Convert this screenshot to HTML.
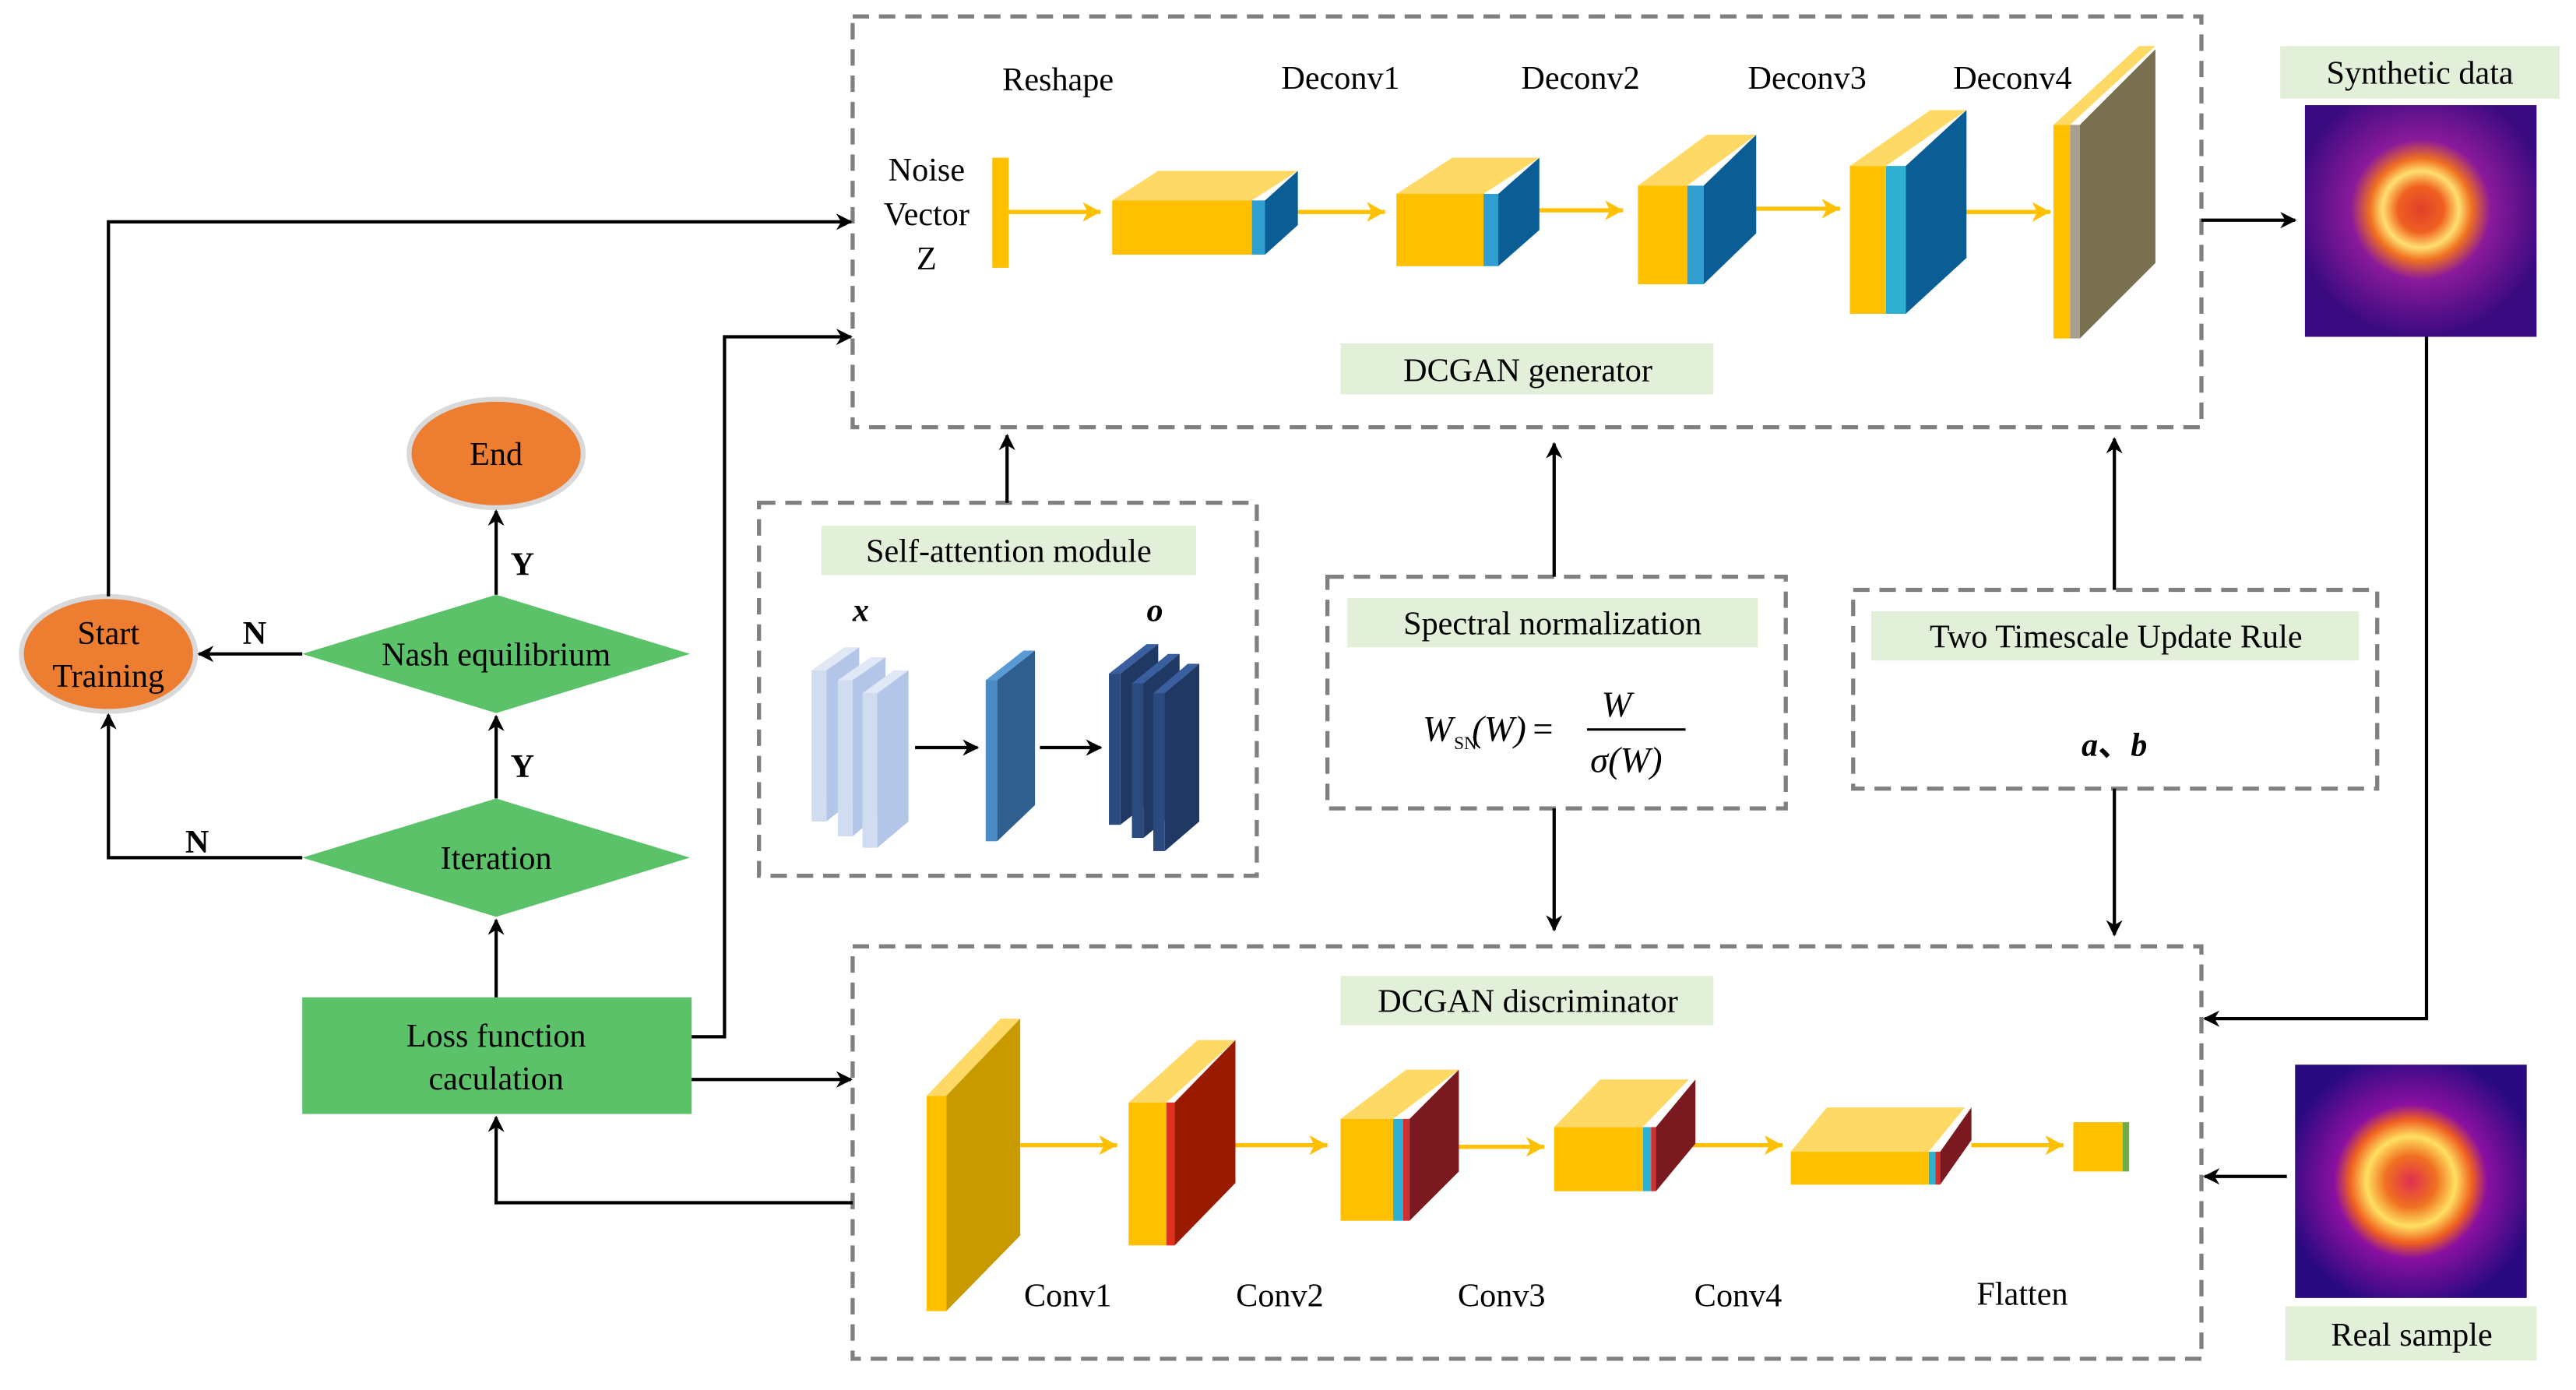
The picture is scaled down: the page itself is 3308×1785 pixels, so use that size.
<!DOCTYPE html>
<html><head><meta charset="utf-8"><style>
html,body{margin:0;padding:0;background:#fff;}
svg{display:block;}
text{font-family:"Liberation Serif",serif;fill:#000;}
</style></head><body>
<svg width="3308" height="1785" viewBox="0 0 1568 846" preserveAspectRatio="none" xmlns="http://www.w3.org/2000/svg">
<defs>
<marker id="ah" markerWidth="10" markerHeight="10" refX="9" refY="5" orient="auto" markerUnits="userSpaceOnUse"><path d="M0,0 L10,5 L0,10 L3,5 Z" fill="#000"/></marker>
<marker id="oh" markerWidth="12" markerHeight="12" refX="11" refY="6" orient="auto" markerUnits="userSpaceOnUse"><path d="M0,0 L11,6 L0,12 L3,6 Z" fill="#FFC000"/></marker>
</defs>
<g fill="none" stroke="#808080" stroke-width="2.5" stroke-dasharray="10,6">
<rect x="519" y="10" width="821" height="250"/>
<rect x="519" y="576" width="821" height="251"/>
<rect x="462" y="306" width="303" height="227"/>
<rect x="808" y="351" width="279" height="141"/>
<rect x="1128" y="359" width="319" height="121"/>
</g>
<g fill="#E2EFD9">
<rect x="816" y="209" width="227" height="31"/>
<rect x="816" y="594" width="227" height="30"/>
<rect x="500" y="320" width="228" height="30"/>
<rect x="820" y="364" width="250" height="30"/>
<rect x="1139" y="372" width="297" height="30"/>
<rect x="1388" y="28" width="170" height="32"/>
<rect x="1391" y="795" width="153" height="33"/>
</g>
<g font-size="20" text-anchor="middle">
<text x="930" y="232">DCGAN generator</text>
<text x="930" y="616">DCGAN discriminator</text>
<text x="614" y="342">Self-attention module</text>
<text x="945" y="386">Spectral normalization</text>
<text x="1288" y="394">Two Timescale Update Rule</text>
<text x="1473" y="51">Synthetic data</text>
<text x="1468" y="819">Real sample</text>
<text x="644" y="55">Reshape</text>
<text x="816" y="54">Deconv1</text>
<text x="962" y="54">Deconv2</text>
<text x="1100" y="54">Deconv3</text>
<text x="1225" y="54">Deconv4</text>
<text x="564" y="110">Noise</text>
<text x="564" y="137">Vector</text>
<text x="564" y="164">Z</text>
<text x="650" y="795">Conv1</text>
<text x="779" y="795">Conv2</text>
<text x="914" y="795">Conv3</text>
<text x="1058" y="795">Conv4</text>
<text x="1231" y="794">Flatten</text>
</g>
<!-- flowchart -->
<ellipse cx="66" cy="398" rx="53" ry="35" fill="#ED7D31" stroke="#D9D9D9" stroke-width="3"/>
<ellipse cx="302" cy="276" rx="53" ry="33" fill="#ED7D31" stroke="#D9D9D9" stroke-width="3"/>
<polygon points="184,398 302,362 420,398 302,434" fill="#5CC26A"/>
<polygon points="184,522 302,486 420,522 302,558" fill="#5CC26A"/>
<rect x="184" y="607" width="237" height="71" fill="#5CC26A"/>
<g font-size="20" text-anchor="middle">
<text x="66" y="392">Start</text>
<text x="66" y="418">Training</text>
<text x="302" y="283">End</text>
<text x="302" y="405">Nash equilibrium</text>
<text x="302" y="529">Iteration</text>
<text x="302" y="637">Loss function</text>
<text x="302" y="663">caculation</text>
</g>
<g font-size="20" font-weight="bold" text-anchor="middle">
<text x="318" y="350">Y</text>
<text x="318" y="473">Y</text>
<text x="155" y="392">N</text>
<text x="120" y="519">N</text>
</g>
<g fill="none" stroke="#000" stroke-width="2" marker-end="url(#ah)">
<polyline points="66,363 66,135 518,135"/>
<polyline points="421,631 441,631 441,205 518,205"/>
<polyline points="421,657 518,657"/>
<polyline points="519,732 302,732 302,680"/>
<polyline points="302,607 302,560"/>
<polyline points="302,486 302,436"/>
<polyline points="302,362 302,311"/>
<polyline points="184,398 121,398"/>
<polyline points="184,522 66,522 66,435"/>
<polyline points="613,306 613,265"/>
<polyline points="946,351 946,270"/>
<polyline points="946,492 946,566"/>
<polyline points="1287,359 1287,267"/>
<polyline points="1287,480 1287,569"/>
<polyline points="1340,134 1397,134"/>
<polyline points="1477,205 1477,620 1342,620"/>
<polyline points="1392,716 1342,716"/>
<polyline points="557,455 595,455"/>
<polyline points="633,455 670,455"/>
</g>
<!-- images -->
<defs>
<radialGradient id="syn" cx="50%" cy="45%" r="55%"><stop offset="0" stop-color="#e0402a"/><stop offset="0.18" stop-color="#f06020"/><stop offset="0.3" stop-color="#ffe070"/><stop offset="0.4" stop-color="#f07020"/><stop offset="0.55" stop-color="#8a1a9a"/><stop offset="1" stop-color="#3a0a80"/></radialGradient>
<radialGradient id="real" cx="50%" cy="50%" r="55%"><stop offset="0" stop-color="#e03050"/><stop offset="0.2" stop-color="#f07020"/><stop offset="0.35" stop-color="#ffe060"/><stop offset="0.48" stop-color="#f06020"/><stop offset="0.6" stop-color="#8a10a0"/><stop offset="1" stop-color="#2a0a80"/></radialGradient>
</defs>
<rect x="1403" y="64" width="141" height="141" fill="url(#syn)"/>
<rect x="1397" y="648" width="141" height="142" fill="url(#real)"/>
<!-- formula -->
<g font-style="italic" font-size="22">
<text x="866" y="451">W</text>
<text x="896" y="451">(W)</text>
<text x="984" y="436" text-anchor="middle">W</text>
<text x="968" y="470">σ(W)</text>
</g>
<text x="885" y="456" font-size="11">SN</text>
<text x="933" y="451" font-size="22">=</text>
<line x1="966" y1="444" x2="1026" y2="444" stroke="#000" stroke-width="1.5"/>
<text x="1287" y="460" font-size="20" font-style="italic" font-weight="bold" text-anchor="middle">a<tspan font-style="normal" font-family="Noto Sans CJK SC,sans-serif">、</tspan>b</text>
<!-- generator blocks -->
<rect x="604" y="96" width="10" height="67" fill="#FFC000"/>
<g stroke="#FFC000" stroke-width="2.5" fill="none" marker-end="url(#oh)">
<line x1="614" y1="129" x2="670" y2="129"/>
<line x1="788" y1="129" x2="843" y2="129"/>
<line x1="935" y1="128" x2="988" y2="128"/>
<line x1="1062" y1="127" x2="1120" y2="127"/>
<line x1="1190" y1="129" x2="1248" y2="129"/>
</g>
<!-- block1 -->
<g>
<polygon points="677,122 762,122 790,104 705,104" fill="#FFD966"/>
<polygon points="762,122 770,122 770,155 762,155" fill="#2E9FD0"/>
<polygon points="770,122 790,104 790,137 770,155" fill="#0B5D96"/>
<rect x="677" y="122" width="85" height="33" fill="#FFC000"/>
</g>
<g>
<polygon points="850,118 903,118 937,96 884,96" fill="#FFD966"/>
<rect x="903" y="118" width="9" height="44" fill="#2E9FD0"/>
<polygon points="912,118 937,96 937,140 912,162" fill="#0B5D96"/>
<rect x="850" y="118" width="53" height="44" fill="#FFC000"/>
</g>
<g>
<polygon points="997,113 1027,113 1069,82 1039,82" fill="#FFD966"/>
<rect x="1027" y="113" width="10" height="60" fill="#2E9FD0"/>
<polygon points="1037,113 1069,82 1069,142 1037,173" fill="#0B5D96"/>
<rect x="997" y="113" width="30" height="60" fill="#FFC000"/>
</g>
<g>
<polygon points="1126,101 1148,101 1197,67 1175,67" fill="#FFD966"/>
<rect x="1148" y="101" width="12" height="90" fill="#2EB0D0"/>
<polygon points="1160,101 1197,67 1197,157 1160,191" fill="#0B5D96"/>
<rect x="1126" y="101" width="22" height="90" fill="#FFC000"/>
</g>
<g>
<polygon points="1250,76 1260,76 1312,28 1302,28" fill="#FFD966"/>
<rect x="1260" y="76" width="6" height="130" fill="#AAA090"/>
<polygon points="1266,76 1312,30 1312,160 1266,206" fill="#7A7050"/>
<rect x="1250" y="76" width="10" height="130" fill="#FFC000"/>
</g>
<!-- discriminator blocks -->
<g stroke="#FFC000" stroke-width="2.5" fill="none" marker-end="url(#oh)">
<line x1="621" y1="697" x2="680" y2="697"/>
<line x1="750" y1="697" x2="808" y2="697"/>
<line x1="885" y1="698" x2="940" y2="698"/>
<line x1="1030" y1="697" x2="1085" y2="697"/>
<line x1="1200" y1="697" x2="1256" y2="697"/>
</g>
<g>
<polygon points="564,667 576,667 621,620 609,620" fill="#FFD966"/>
<polygon points="576,667 621,620 621,752 576,798" fill="#C99A00"/>
<rect x="564" y="667" width="12" height="131" fill="#FFC000"/>
</g>
<g>
<polygon points="687,671 710,671 752,633 729,633" fill="#FFD966"/>
<rect x="710" y="671" width="5" height="87" fill="#E03020"/>
<polygon points="715,671 752,633 752,720 715,758" fill="#9A1A00"/>
<rect x="687" y="671" width="23" height="87" fill="#FFC000"/>
</g>
<g>
<polygon points="816,681 848,681 888,651 856,651" fill="#FFD966"/>
<rect x="848" y="681" width="6" height="62" fill="#2EB0D0"/>
<rect x="854" y="681" width="4" height="62" fill="#D03030"/>
<polygon points="858,681 888,651 888,713 858,743" fill="#7A1A20"/>
<rect x="816" y="681" width="32" height="62" fill="#FFC000"/>
</g>
<g>
<polygon points="946,686 1000,686 1028,657 974,657" fill="#FFD966"/>
<rect x="1000" y="686" width="5" height="39" fill="#2EB0D0"/>
<rect x="1005" y="686" width="3" height="39" fill="#D03030"/>
<polygon points="1008,686 1032,657 1032,696 1008,725" fill="#7A1A20"/>
<rect x="946" y="686" width="54" height="39" fill="#FFC000"/>
</g>
<g>
<polygon points="1090,701 1174,701 1196,674 1112,674" fill="#FFD966"/>
<rect x="1174" y="701" width="4" height="20" fill="#2EB0D0"/>
<rect x="1178" y="701" width="3" height="20" fill="#D03030"/>
<polygon points="1181,701 1200,674 1200,694 1181,721" fill="#7A1A20"/>
<rect x="1090" y="701" width="84" height="20" fill="#FFC000"/>
</g>
<rect x="1262" y="683" width="30" height="30" fill="#FFC000"/>
<rect x="1292" y="683" width="4" height="30" fill="#70AD47"/>
<!-- self attention plates -->
<g>
<polygon points="494,408 503,408 523,394 514,394" fill="#E0E8F5"/>
<polygon points="503,408 523,394 523,484 503,500" fill="#B4C6E7"/>
<rect x="494" y="408" width="9" height="92" fill="#D0DCF0"/>
<polygon points="510,414 519,414 539,400 530,400" fill="#E0E8F5"/>
<polygon points="519,414 539,400 539,492 519,509" fill="#B4C6E7"/>
<rect x="510" y="414" width="9" height="95" fill="#D0DCF0"/>
<polygon points="525,422 534,422 553,408 544,408" fill="#E0E8F5"/>
<polygon points="534,422 553,408 553,500 534,516" fill="#B4C6E7"/>
<rect x="525" y="422" width="9" height="94" fill="#D0DCF0"/>
</g>
<g>
<polygon points="600,414 607,414 630,396 623,396" fill="#5A9AD5"/>
<polygon points="607,414 630,396 630,490 607,512" fill="#2E5F8F"/>
<rect x="600" y="414" width="7" height="98" fill="#4A8AC5"/>
</g>
<g>
<polygon points="675,410 682,410 705,392 698,392" fill="#3A5FA0"/>
<polygon points="682,410 705,392 705,484 682,502" fill="#203864"/>
<rect x="675" y="410" width="7" height="92" fill="#2A4A80"/>
<polygon points="689,416 696,416 718,398 711,398" fill="#3A5FA0"/>
<polygon points="696,416 718,398 718,492 696,510" fill="#203864"/>
<rect x="689" y="416" width="7" height="94" fill="#2A4A80"/>
<polygon points="702,422 709,422 730,404 723,404" fill="#3A5FA0"/>
<polygon points="709,422 730,404 730,500 709,518" fill="#203864"/>
<rect x="702" y="422" width="7" height="96" fill="#2A4A80"/>
</g>
<text x="524" y="378" font-size="20" font-style="italic" font-weight="bold" text-anchor="middle">x</text>
<text x="703" y="378" font-size="20" font-style="italic" font-weight="bold" text-anchor="middle">o</text>
</svg>
</body></html>
